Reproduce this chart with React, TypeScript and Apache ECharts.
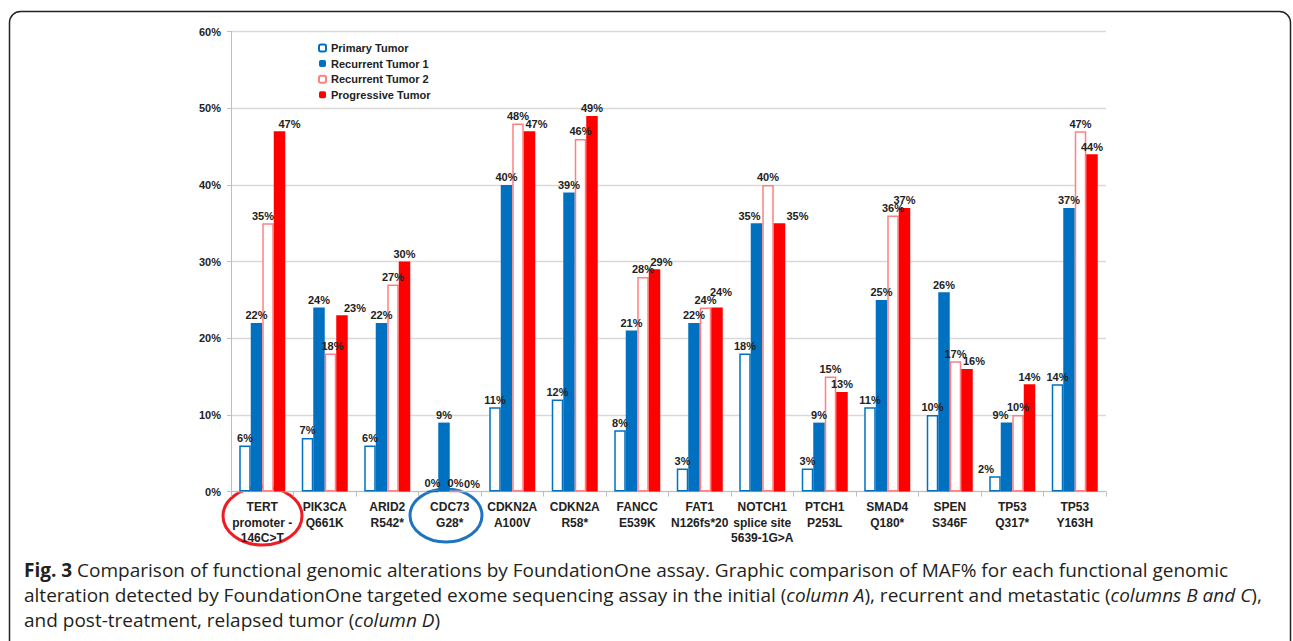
import React, { useEffect, useRef } from "react";
import * as echarts from "echarts";

const categories = [
  "TERT\npromoter -\n146C>T",
  "PIK3CA\nQ661K",
  "ARID2\nR542*",
  "CDC73\nG28*",
  "CDKN2A\nA100V",
  "CDKN2A\nR58*",
  "FANCC\nE539K",
  "FAT1\nN126fs*20",
  "NOTCH1\nsplice site\n5639-1G>A",
  "PTCH1\nP253L",
  "SMAD4\nQ180*",
  "SPEN\nS346F",
  "TP53\nQ317*",
  "TP53\nY163H",
];
const primaryTumor = [6, 7, 6, 0, 11, 12, 8, 3, 18, 3, 11, 10, 2, 14];
const recurrentTumor1 = [22, 24, 22, 9, 40, 39, 21, 22, 35, 9, 25, 26, 9, 37];
const recurrentTumor2 = [35, 18, 27, 0, 48, 46, 28, 24, 40, 15, 36, 17, 10, 47];
const progressiveTumor = [47, 23, 30, 0, 47, 49, 29, 24, 35, 13, 37, 16, 14, 44];
const seriesNames = ["Primary Tumor", "Recurrent Tumor 1", "Recurrent Tumor 2", "Progressive Tumor"];
const captionLines = [
  "{b|Fig. 3} Comparison of functional genomic alterations by FoundationOne assay. Graphic comparison of MAF% for each functional genomic",
  "alteration detected by FoundationOne targeted exome sequencing assay in the initial ({i|column A}), recurrent and metastatic ({i|columns B and C}),",
  "and post-treatment, relapsed tumor ({i|column D})",
];

// label nudges (styling only): [seriesIndex, categoryIndex, dx, dy]
const labelNudges: [number, number, number, number][] = [
  [3, 0, 10, 0],
  [3, 1, 13, 0],
  [3, 3, 5, 0],
  [3, 4, 7, 0],
  [3, 6, 7, 0],
  [3, 7, 4, -8],
  [3, 8, 18, 0],
  [3, 11, 7, 0],
  [2, 0, -5, 0],
  [2, 1, 2, 0],
  [1, 8, -7, 0],
  [1, 12, -6, 0],
  [0, 12, -9, 0],
];

const BLUE = "#0070C0";
const RED = "#FF0000";
const PINK = "#FF8080";
const FONT = "Liberation Sans, Arial, sans-serif";
const CAPFONT = "Open Sans, Noto Sans, sans-serif";

export default function App() {
  const ref = useRef<HTMLDivElement>(null);
  useEffect(() => {
    if (!ref.current) return;
    const chart = echarts.init(ref.current, null, { renderer: "svg" });
    const label = {
      show: true,
      position: "top" as const,
      distance: 2,
      formatter: "{c}%",
      fontFamily: FONT,
      fontWeight: "bold" as const,
      fontSize: 11,
      color: "#222",
    };
    const mk = (si: number, data: number[], itemStyle: any) => ({
      name: seriesNames[si],
      type: "bar" as const,
      data: data.map((v, ci) => {
        const n = labelNudges.find((x) => x[0] === si && x[1] === ci);
        return n ? { value: v, label: { offset: [n[2], n[3]] } } : v;
      }),
      barWidth: 11.5,
      barGap: "0%",
      itemStyle,
      label,
    });
    chart.setOption({
      animation: false,
      backgroundColor: "#fff",
      grid: { left: 231, right: 187, top: 31.6, height: 460, containLabel: false },
      legend: {
        orient: "vertical",
        left: 318,
        top: 42,
        padding: 0,
        itemWidth: 7,
        itemHeight: 7,
        itemGap: 3.6,
        data: seriesNames,
        textStyle: { fontFamily: FONT, fontWeight: "bold", fontSize: 11, color: "#222", lineHeight: 12 },
      },
      xAxis: {
        type: "category",
        data: categories,
        axisLine: { lineStyle: { color: "#bfbfbf", width: 1 } },
        axisTick: { show: true, length: 5, lineStyle: { color: "#bfbfbf" } },
        axisLabel: {
          interval: 0,
          margin: 8,
          fontFamily: FONT,
          fontWeight: "bold",
          fontSize: 12,
          lineHeight: 15.3,
          color: "#222",
        },
      },
      yAxis: {
        type: "value",
        min: 0,
        max: 60,
        interval: 10,
        axisLine: { show: true, lineStyle: { color: "#bfbfbf" } },
        axisTick: { show: true, length: 4, lineStyle: { color: "#bfbfbf" } },
        splitLine: { lineStyle: { color: "#d9d9d9", width: 1.3 } },
        axisLabel: {
          formatter: "{value}%",
          margin: 10,
          fontFamily: FONT,
          fontWeight: "bold",
          fontSize: 11,
          color: "#222",
        },
      },
      series: [
        mk(0, primaryTumor, { color: "#ffffff", borderColor: BLUE, borderWidth: 1.5 }),
        mk(1, recurrentTumor1, { color: BLUE }),
        mk(2, recurrentTumor2, { color: "#ffffff", borderColor: PINK, borderWidth: 1.5 }),
        mk(3, progressiveTumor, { color: RED }),
      ],
      graphic: [
        {
          type: "rect",
          shape: { x: 9.5, y: 11.5, width: 1281, height: 700, r: 11 },
          style: { fill: "none", stroke: "#222", lineWidth: 1.5 },
          silent: true,
        },
        {
          type: "ellipse",
          shape: { cx: 262.5, cy: 516, rx: 39.5, ry: 29 },
          style: { fill: "none", stroke: "#EE1C24", lineWidth: 3 },
          silent: true,
        },
        {
          type: "ellipse",
          shape: { cx: 446, cy: 515.5, rx: 36, ry: 26.5 },
          style: { fill: "none", stroke: "#1F74C1", lineWidth: 3 },
          silent: true,
        },
        ...captionLines.map((t, i) => ({
          type: "text",
          x: 24,
          y: 570 + i * 25,
          silent: true,
          style: {
            text: t,
            fontFamily: CAPFONT,
            fontSize: 19,
            fill: "#231f20",
            verticalAlign: "middle",
            rich: {
              b: { fontWeight: "bold", fontFamily: CAPFONT, fontSize: 19, fill: "#231f20" },
              i: { fontStyle: "italic", fontFamily: CAPFONT, fontSize: 19, fill: "#231f20" },
            },
          },
        })),
      ],
    });
    return () => chart.dispose();
  }, []);
  return (
    <div
      ref={ref}
      style={{ position: "fixed", left: 0, top: 0, width: 1293, height: 641, background: "#fff" }}
    />
  );
}
